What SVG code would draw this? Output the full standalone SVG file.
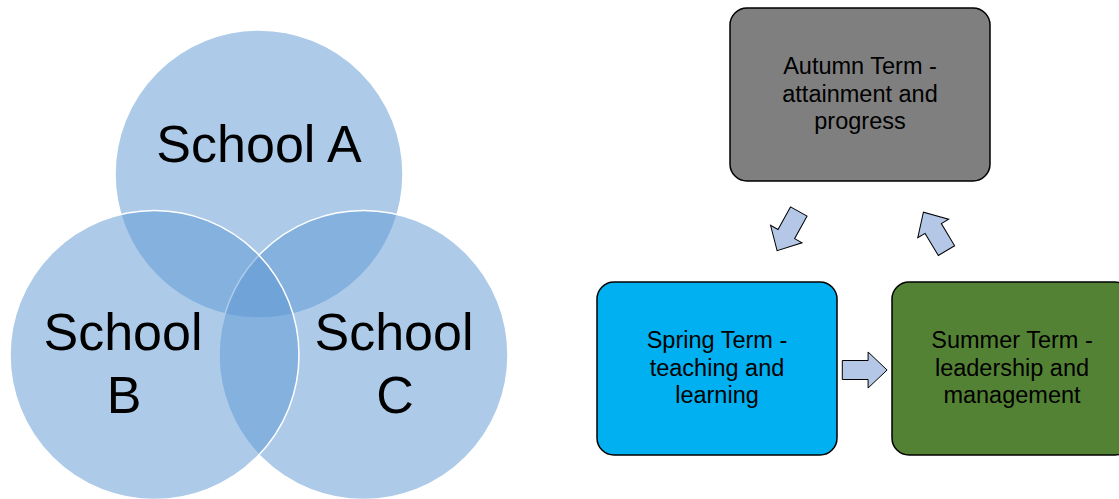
<svg xmlns="http://www.w3.org/2000/svg" width="1119" height="499" viewBox="0 0 1119 499">
  <style>
    .venn { fill: #5b97d3; fill-opacity: 0.5; stroke: #ffffff; stroke-width: 1.5; }
    .venn-label { font-family: "Liberation Sans", Arial, sans-serif; font-size: 52px; fill: #000000; text-anchor: middle; }
    .term { stroke: #000000; stroke-width: 1.5; }
    .term-label { font-family: "Liberation Sans", Arial, sans-serif; font-size: 23.5px; fill: #000000; text-anchor: middle; }
    .flow { fill: #b4c7e7; stroke: #000000; stroke-width: 1; stroke-linejoin: miter; }
  </style>
  <defs>
    <!-- block arrow pointing right, centred on the origin -->
    <path id="block-arrow" d="M -22.3 -9.5 L 3.5 -9.5 L 3.5 -18 L 22.5 0 L 3.5 18 L 3.5 9.5 L -22.3 9.5 Z"/>
  </defs>
  <rect width="1119" height="499" fill="#ffffff"/>

  <!-- Venn diagram of the three schools -->
  <g id="school-a">
    <circle class="venn" cx="259" cy="174" r="144" stroke="none"/>
  </g>
  <g id="school-c">
    <circle class="venn" cx="363.5" cy="355" r="144.5"/>
  </g>
  <g id="school-b">
    <circle class="venn" cx="154.5" cy="355" r="144.5"/>
  </g>
  <g id="venn-labels">
    <text class="venn-label" x="259" y="162">School A</text>
    <text class="venn-label" x="123" y="350">School</text>
    <text class="venn-label" x="124" y="413">B</text>
    <text class="venn-label" x="394" y="350">School</text>
    <text class="venn-label" x="395" y="413">C</text>
  </g>

  <!-- Termly cycle -->
  <g id="autumn-term">
    <rect class="term" x="730" y="8" width="260" height="173" rx="17" ry="17" fill="#7f7f7f"/>
    <text class="term-label" x="860" y="74">Autumn Term -</text>
    <text class="term-label" x="860" y="101.5">attainment and</text>
    <text class="term-label" x="860" y="129">progress</text>
  </g>
  <g id="spring-term">
    <rect class="term" x="597" y="282" width="240" height="173" rx="17" ry="17" fill="#00b0f0"/>
    <text class="term-label" x="717" y="348">Spring Term -</text>
    <text class="term-label" x="717" y="375.5">teaching and</text>
    <text class="term-label" x="717" y="403">learning</text>
  </g>
  <g id="summer-term">
    <rect class="term" x="892" y="282" width="240" height="173" rx="17" ry="17" fill="#548235"/>
    <text class="term-label" x="1012" y="348">Summer Term -</text>
    <text class="term-label" x="1012" y="375.5">leadership and</text>
    <text class="term-label" x="1012" y="403">management</text>
  </g>

  <g id="connectors">
    <use href="#block-arrow" class="flow" transform="translate(788 231) rotate(119)"/>
    <use href="#block-arrow" class="flow" transform="translate(864.6 370)"/>
    <use href="#block-arrow" class="flow" transform="translate(935 231.5) rotate(-121)"/>
  </g>
</svg>
